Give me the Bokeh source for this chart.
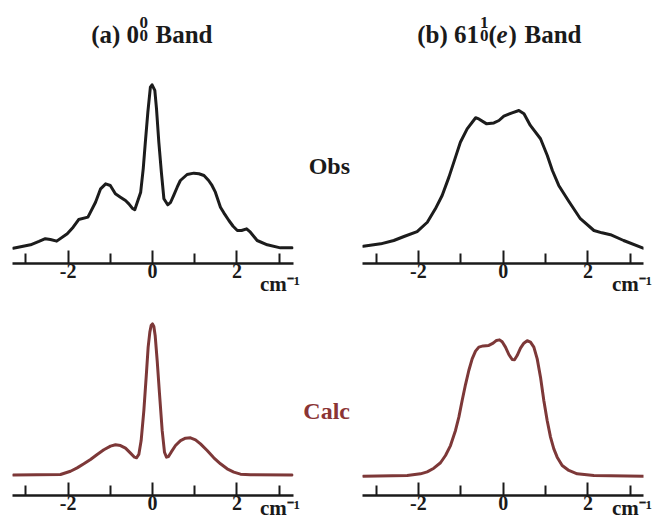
from bokeh.plotting import figure
from bokeh.models import Range1d, FixedTicker, Label, LinearAxis
from bokeh.layouts import column, row
from bokeh.embed import file_html
from bokeh.resources import INLINE

# ---------------- data ----------------
obs_a_x = [-3.30, -2.89, -2.69, -2.54, -2.42, -2.27, -2.02, -1.88, -1.75, -1.53, -1.35, -1.23,
           -1.11, -1.00, -0.88, -0.76, -0.64, -0.56, -0.48, -0.42, -0.28, -0.22, -0.17, -0.11,
           -0.05, -0.01, 0.055, 0.095, 0.15, 0.21, 0.27, 0.36, 0.43, 0.50, 0.585, 0.66, 0.82,
           0.98, 1.10, 1.22, 1.33, 1.41, 1.49, 1.61, 1.69, 1.81, 1.91, 2.01, 2.11, 2.23, 2.32,
           2.48, 2.72, 3.03, 3.31]
obs_a_y = [0.002, 0.023, 0.044, 0.061, 0.056, 0.046, 0.092, 0.133, 0.181, 0.196, 0.289, 0.373,
           0.404, 0.394, 0.342, 0.321, 0.300, 0.279, 0.252, 0.242, 0.352, 0.498, 0.664, 0.852,
           1.008, 1.023, 0.988, 0.873, 0.664, 0.477, 0.311, 0.273, 0.289, 0.331, 0.383, 0.425,
           0.4625, 0.471, 0.467, 0.456, 0.425, 0.394, 0.352, 0.258, 0.223, 0.175, 0.139, 0.1125,
           0.1125, 0.123, 0.102, 0.05, 0.023, 0.004, 0.004]

obs_b_x = [-3.30, -2.89, -2.58, -2.34, -2.03, -1.79, -1.60, -1.44, -1.28, -1.125, -1.01, -0.85,
           -0.65, -0.575, -0.39, -0.22, -0.10, 0.015, 0.21, 0.37, 0.49, 0.64, 0.88, 1.04, 1.16,
           1.31, 1.55, 1.82, 2.14, 2.33, 2.53, 2.84, 3.30]
obs_b_y = [0.014, 0.029, 0.05, 0.075, 0.106, 0.164, 0.248, 0.331, 0.446, 0.571, 0.664, 0.748,
           0.817, 0.81, 0.779, 0.785, 0.80, 0.827, 0.848, 0.8625, 0.842, 0.769, 0.686, 0.581,
           0.4875, 0.394, 0.294, 0.186, 0.1125, 0.098, 0.086, 0.05, 0.002]

calc_a_x = [-3.30, -2.180, -1.943, -1.785, -1.627, -1.469, -1.311, -1.153, -0.995, -0.877,
            -0.758, -0.640, -0.521, -0.427, -0.379, -0.324, -0.269, -0.205, -0.150, -0.103,
            -0.063, -0.032, 0.0, 0.032, 0.063, 0.111, 0.166, 0.229, 0.284, 0.332, 0.379, 0.442,
            0.545, 0.664, 0.782, 0.900, 1.019, 1.137, 1.295, 1.453, 1.611, 1.769, 1.927, 2.085,
            2.322, 3.31]
calc_a_y = [0.0, 0.003, 0.025, 0.047, 0.074, 0.103, 0.136, 0.167, 0.191, 0.200,
            0.195, 0.178, 0.145, 0.118, 0.114, 0.136, 0.228, 0.427, 0.648, 0.847,
            0.946, 0.990, 1.001, 0.984, 0.924, 0.758, 0.538, 0.295, 0.151, 0.118, 0.1225, 0.151,
            0.195, 0.228, 0.244, 0.246, 0.233, 0.206, 0.162, 0.114, 0.074, 0.041, 0.019, 0.0055,
            0.001, 0.0]

calc_b_x = [-3.303, -2.265, -1.951, -1.793, -1.636, -1.479, -1.361, -1.243, -1.125, -1.046,
            -0.968, -0.889, -0.811, -0.732, -0.653, -0.575, -0.472, -0.339, -0.237, -0.158,
            -0.087, -0.024, 0.054, 0.133, 0.212, 0.267, 0.329, 0.408, 0.487, 0.566, 0.644,
            0.723, 0.802, 0.880, 0.958, 1.037, 1.116, 1.194, 1.273, 1.391, 1.548, 1.745, 2.138,
            3.317]
calc_b_y = [-0.0077, -0.0033, 0.0077, 0.021, 0.045, 0.081, 0.129, 0.195, 0.295, 0.383,
            0.493, 0.599, 0.692, 0.769, 0.820, 0.847, 0.855, 0.858, 0.873, 0.891,
            0.895, 0.882, 0.847, 0.798, 0.765, 0.763, 0.791, 0.840, 0.873, 0.889, 0.880,
            0.847, 0.769, 0.648, 0.493, 0.361, 0.251, 0.173, 0.118, 0.063, 0.030, 0.0077, -0.0033,
            -0.0077]

major_ticks = [-2, 0, 2]
minor_ticks = [-3, -1, 1, 3]
tick_labels = {-2: "-2", 0: "0", 2: "2"}
unit_pos = 3.04
unit_label = "cm\u207b\u00b9"

OBS_COLOR = "#1c1c1c"
CALC_COLOR = "#7d3838"
CALC_TEXT = "#8b3434"
TEXT_COLOR = "#1a1a1a"
FONT = "Liberation Serif"

# ---------------- layout geometry (page pixels) ----------------
LEFT = dict(page_left=0, fl=12, fr=293, page_right=300, x0=-3.3175, x1=3.3412)
RIGHT = dict(page_left=362, fl=362, fr=643, page_right=652, x0=-3.3184, x1=3.309)
TOP = dict(page_top=0, ft=0, fb=263, page_bottom=300, y0=-0.09375, y1=1.55, unit_standoff=-9)
BOT = dict(page_top=300, ft=300, fb=495, page_bottom=524, y0=-0.1358, y1=1.1556, unit_standoff=-17)


def make_fig(col, rw):
    p = figure(
        frame_width=col["fr"] - col["fl"],
        frame_height=rw["fb"] - rw["ft"],
        min_border_left=col["fl"] - col["page_left"],
        min_border_right=col["page_right"] - col["fr"],
        min_border_top=rw["ft"] - rw["page_top"],
        min_border_bottom=rw["page_bottom"] - rw["fb"],
        x_range=Range1d(col["x0"], col["x1"]),
        y_range=Range1d(rw["y0"], rw["y1"]),
        y_axis_location=None,
        toolbar_location=None,
        output_backend="svg",
    )
    p.xgrid.visible = False
    p.ygrid.visible = False
    p.outline_line_color = None
    p.background_fill_color = "white"
    p.border_fill_color = "white"
    ax = p.xaxis[0]
    ax.ticker = FixedTicker(ticks=major_ticks, minor_ticks=minor_ticks)
    ax.major_label_overrides = tick_labels
    ax.axis_line_width = 2.5
    ax.axis_line_color = TEXT_COLOR
    ax.major_tick_in = 13
    ax.major_tick_out = 0
    ax.minor_tick_in = 10
    ax.minor_tick_out = 0
    ax.major_tick_line_width = 2
    ax.minor_tick_line_width = 2
    ax.major_tick_line_color = TEXT_COLOR
    ax.minor_tick_line_color = TEXT_COLOR
    ax.major_label_text_font = FONT
    ax.major_label_text_font_style = "bold"
    ax.major_label_text_font_size = "20px"
    ax.major_label_text_color = TEXT_COLOR
    ax.major_label_standoff = 0

    # unit label "cm-1" as a label-only axis placed just below the main one
    ux = LinearAxis(ticker=FixedTicker(ticks=[unit_pos], minor_ticks=[]),
                    major_label_overrides={unit_pos: unit_label})
    ux.axis_line_color = None
    ux.major_tick_line_color = None
    ux.minor_tick_line_color = None
    ux.major_tick_in = 0
    ux.major_tick_out = 0
    ux.major_label_text_font = FONT
    ux.major_label_text_font_style = "bold"
    ux.major_label_text_font_size = "21px"
    ux.major_label_text_color = TEXT_COLOR
    ux.major_label_standoff = rw["unit_standoff"]
    p.add_layout(ux, "below")
    return p


def make_mid(rw):
    p = figure(
        frame_width=RIGHT["page_left"] - LEFT["page_right"],
        frame_height=rw["page_bottom"] - rw["page_top"],
        min_border=0, min_border_left=0, min_border_right=0, min_border_top=0, min_border_bottom=0,
        x_range=Range1d(LEFT["page_right"], RIGHT["page_left"]),
        y_range=Range1d(rw["page_bottom"], rw["page_top"]),
        x_axis_location=None, y_axis_location=None,
        toolbar_location=None,
        output_backend="svg",
    )
    p.xgrid.visible = False
    p.ygrid.visible = False
    p.outline_line_color = None
    p.background_fill_color = "white"
    p.border_fill_color = "white"
    return p


def to_data(col, rw, px, py):
    x = col["x0"] + (px - col["fl"]) / (col["fr"] - col["fl"]) * (col["x1"] - col["x0"])
    y = rw["y0"] + (rw["fb"] - py) / (rw["fb"] - rw["ft"]) * (rw["y1"] - rw["y0"])
    return x, y


def label(x, y, text, size, color=TEXT_COLOR, style="bold", align="left"):
    return Label(x=x, y=y, text=text, text_font=FONT, text_font_size=size,
                 text_font_style=style, text_color=color, text_align=align,
                 text_baseline="alphabetic")


def add_text(p, col, rw, px, py, text, size, **kw):
    x, y = to_data(col, rw, px, py)
    p.add_layout(label(x, y, text, size, **kw))


fa1 = make_fig(LEFT, TOP)
fb1 = make_fig(RIGHT, TOP)
fa2 = make_fig(LEFT, BOT)
fb2 = make_fig(RIGHT, BOT)
mid1 = make_mid(TOP)
mid2 = make_mid(BOT)

for p, xs, ys, c in [(fa1, obs_a_x, obs_a_y, OBS_COLOR), (fb1, obs_b_x, obs_b_y, OBS_COLOR),
                     (fa2, calc_a_x, calc_a_y, CALC_COLOR), (fb2, calc_b_x, calc_b_y, CALC_COLOR)]:
    p.line(xs, ys, line_color=c, line_width=3, line_join="round", line_cap="round")

# titles
add_text(fa1, LEFT, TOP, 90.7, 33.5, "(a) 0", "25px")
add_text(fa1, LEFT, TOP, 139.0, 21.7, "0", "17px")
add_text(fa1, LEFT, TOP, 139.0, 35.0, "0", "17px")
add_text(fa1, LEFT, TOP, 155.0, 33.5, "Band", "25px")

add_text(fb1, RIGHT, TOP, 416.7, 33.5, "(b) 61", "25px")
add_text(fb1, RIGHT, TOP, 479.5, 21.7, "1", "17px")
add_text(fb1, RIGHT, TOP, 479.5, 35.0, "0", "17px")
add_text(fb1, RIGHT, TOP, 488.0, 33.5, "(", "25px")
add_text(fb1, RIGHT, TOP, 496.0, 33.5, "e", "25px", style="bold italic")
add_text(fb1, RIGHT, TOP, 508.0, 33.5, ")", "25px")
add_text(fb1, RIGHT, TOP, 524.0, 33.5, "Band", "25px")

# row labels (page coordinates in the middle strip)
mid1.add_layout(label(349.5, 165.0, "Obs", "24px", align="right"))
mid2.add_layout(label(349.5, 410.5, "Calc", "24px", color=CALC_TEXT, align="right"))

layout = column(row(fa1, mid1, fb1), row(fa2, mid2, fb2))
open("out.html", "w").write(file_html(layout, INLINE))
